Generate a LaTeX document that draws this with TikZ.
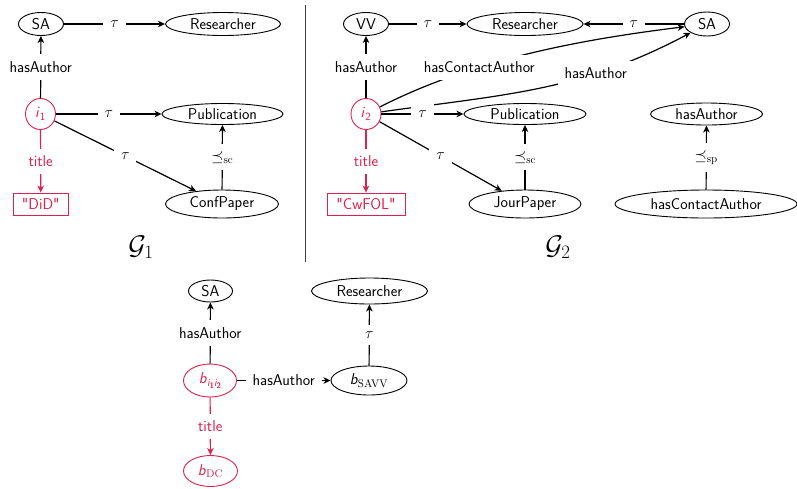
\documentclass[tikz,border=0pt]{standalone}
\usepackage{fix-cm}
\usepackage{amsmath,amssymb}
\usetikzlibrary{arrows.meta,shapes.geometric}
\definecolor{litred}{RGB}{218,34,76}
% straight double quote, bypassing the TeX ligature mapping
\newcommand{\sqt}{\XeTeXglyph\XeTeXcharglyph"22\relax}
\newcommand{\vi}{\textsf{\slshape i}}
\newcommand{\vb}{\textsf{\slshape b}}
% subscript i with a small bold index, for the merged blank node
\newcommand{\subi}[1]{{\fontsize{11}{12}\selectfont\slshape i}\raisebox{-1.6pt}{\fontsize{8}{9}\selectfont\bfseries #1}}
\begin{document}
\begin{tikzpicture}[x=1pt,y=-1pt,
  every node/.style={font=\fontsize{15.7}{19}\selectfont\sffamily},
  ent/.style={draw, ellipse, line width=0.9pt, inner sep=0pt},
  lit/.style={draw=litred, text=litred},
  litbox/.style={draw=litred, text=litred, rectangle, line width=0.9pt, inner sep=0pt},
  link/.style={line width=1.2pt, -{Stealth[length=7pt,width=6.5pt,inset=2pt]}},
  elab/.style={fill=white, inner xsep=7pt, inner ysep=7pt},
  glabel/.style={font=\fontsize{27}{30}\selectfont}]
\useasboundingbox (0,0) rectangle (797,488);

% ---------- graph G1 ----------
\node[ent, minimum width=45, minimum height=23] (sa1) at (41,24) {SA};
\node[ent, minimum width=115, minimum height=23] (res1) at (223,24) {Researcher};
\node[ent, lit, minimum width=30, minimum height=31] (i1) at (40.5,114) {\vi$_{\textsf{1}}$};
\node[ent, minimum width=121, minimum height=21] (pub1) at (222.5,114) {Publication};
\node[ent, minimum width=113, minimum height=28] (cp1) at (222,204) {ConfPaper};
\node[litbox, minimum width=55, minimum height=22] (did) at (40.8,204) {\sqt DiD\sqt};
\node[glabel] (g1) at (141,247) {$\mathcal{G}_1$};

\draw[link] (sa1) -- node[elab] {$\tau$} (res1);
\draw[link] (i1) -- node[elab] {hasAuthor} (sa1);
\draw[link] (i1) -- node[elab] {$\tau$} (pub1);
\draw[link] (i1) -- node[elab] {$\tau$} (cp1);
\draw[link] (cp1) -- node[elab] {$\preceq_{\mathrm{sc}}$} (pub1);
\draw[link, litred] (i1) -- node[elab, text=litred] {title} (did);

% ---------- divider ----------
\coordinate (dtop) at (305,5);
\coordinate (dbot) at (305,262);
\draw[line width=0.8pt, black!75] (dtop) -- (dbot);

% ---------- graph G2 ----------
\node[ent, minimum width=45, minimum height=23] (vv) at (366,24) {VV};
\node[ent, minimum width=116, minimum height=23] (res2) at (525,24) {Researcher};
\node[ent, minimum width=45, minimum height=24] (sa2) at (707,24) {SA};
\node[ent, lit, minimum width=30, minimum height=31] (i2) at (366,114) {\vi$_{\textsf{2}}$};
\node[ent, minimum width=122, minimum height=21] (pub2) at (525,114) {Publication};
\node[ent, minimum width=112, minimum height=28] (jp) at (525,204) {JourPaper};
\node[litbox, minimum width=78, minimum height=22] (cwfol) at (366,204) {\sqt CwFOL\sqt};
\node[ent, minimum width=112, minimum height=22] (ha) at (706.5,114) {hasAuthor};
\node[ent, minimum width=182, minimum height=28] (hca) at (706,204) {hasContactAuthor};
\node[glabel] (g2) at (558,247) {$\mathcal{G}_2$};

\draw[link] (vv) -- node[elab] {$\tau$} (res2);
\draw[link] (sa2) -- node[elab] {$\tau$} (res2);
\draw[link] (i2) -- node[elab] {hasAuthor} (vv);
\draw[link] (i2) to[out=27, in=187, looseness=0.85] node[elab, pos=0.34] {hasContactAuthor} (sa2);
\draw[link] (i2) to[out=8, in=208] node[elab, pos=0.69] {hasAuthor} (sa2);
\draw[link] (i2) -- node[elab] {$\tau$} (pub2);
\draw[link] (i2) -- node[elab] {$\tau$} (jp);
\draw[link] (jp) -- node[elab] {$\preceq_{\mathrm{sc}}$} (pub2);
\draw[link] (hca) -- node[elab] {$\preceq_{\mathrm{sp}}$} (ha);
\draw[link, litred] (i2) -- node[elab, text=litred] {title} (cwfol);

% ---------- merged graph ----------
\node[ent, minimum width=44, minimum height=22] (sa3) at (210.5,291) {SA};
\node[ent, minimum width=116, minimum height=26] (res3) at (369.5,291) {Researcher};
\node[ent, lit, minimum width=53, minimum height=33] (b12) at (210,380.5)
  {\vb\raisebox{-3.5pt}{\subi{1}\subi{2}}};
\node[ent, minimum width=76, minimum height=29] (bsavv) at (369,380.5) {\vb$_{\mathrm{SAVV}}$};
\node[ent, lit, minimum width=54, minimum height=31] (bdc) at (210.5,471) {\vb$_{\mathrm{DC}}$};

\draw[link] (b12) -- node[elab] {hasAuthor} (sa3);
\draw[link] (b12) -- node[elab] {hasAuthor} (bsavv);
\draw[link] (bsavv) -- node[elab] {$\tau$} (res3);
\draw[link, litred] (b12) -- node[elab, text=litred] {title} (bdc);
\end{tikzpicture}
\end{document}
